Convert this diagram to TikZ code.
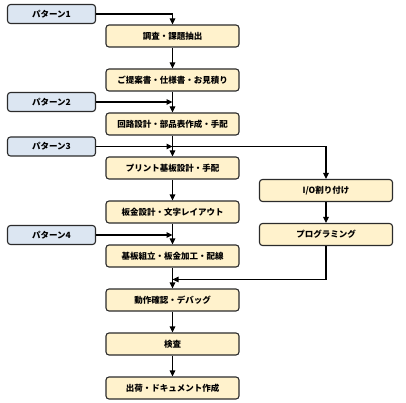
\documentclass[tikz,border=0pt]{standalone}
\usepackage{fontspec}
\setmainfont{Noto Sans CJK JP}
\usetikzlibrary{arrows.meta,positioning}
\definecolor{stepfill}{HTML}{FFF2CC}
\definecolor{patfill}{HTML}{DCE6F2}
\definecolor{edgegray}{HTML}{2B2B2B}

\begin{document}
\begin{tikzpicture}[
  x=1pt, y=-1pt,
  node distance=20.9pt,
  proc/.style={draw=edgegray, line width=1.1pt, rounded corners=3pt, fill=stepfill,
               minimum width=133pt, minimum height=22pt, inner sep=0pt,
               font=\fontsize{8.5}{10}\selectfont\bfseries},
  pat/.style={proc, fill=patfill, minimum width=88pt, minimum height=19pt},
  arr/.style={-{Triangle[length=6pt,width=5.5pt]}, line width=1.1pt, draw=black}
]
\useasboundingbox (0,0) rectangle (406,403);
% main flow
\node[proc] (survey) at (172.5,36) {調査・課題抽出};
\node[proc, below=of survey] (quote) {ご提案書・仕様書・お見積り};
\node[proc, below=of quote] (circuit) {回路設計・部品表作成・手配};
\node[proc, below=of circuit] (pcb) {プリント基板設計・手配};
\node[proc, below=of pcb] (sheet) {板金設計・文字レイアウト};
\node[proc, below=of sheet] (assy) {基板組立・板金加工・配線};
\node[proc, below=of assy] (debug) {動作確認・デバッグ};
\node[proc, below=of debug] (inspect) {検査};
\node[proc, below=of inspect] (ship) {出荷・ドキュメント作成};
% software branch
\node[proc] (io) at (326,190.5) {I/O割り付け};
\node[proc, below=of io] (prog) {プログラミング};
% entry patterns
\node[pat] (pat1) at (51.5,14) {パターン1};
\node[pat] (pat2) at (51.5,102) {パターン2};
\node[pat] (pat3) at (51.5,146.5) {パターン3};
\node[pat] (pat4) at (51.5,235) {パターン4};
\coordinate (split) at (pat3.east -| pcb.north);
\coordinate (merge) at ([yshift=9pt]debug.north);

\draw[arr] (pat1.east) -| (survey.north);
\draw[arr] (survey) -- (quote);
\draw[arr] (quote) -- (circuit);
\draw[arr] (pat2.east) -- (pat2.east -| circuit.north);
\draw[arr] (circuit) -- (pcb);
\draw[arr] (pat3.east) -- (split);
\draw[arr] (split) -| (io.north);
\draw[arr] (pcb) -- (sheet);
\draw[arr] (io) -- (prog);
\draw[arr] (pat4.east) -- (pat4.east -| assy.north);
\draw[arr] (sheet) -- (assy);
\draw[arr] (assy) -- (debug);
\draw[arr] (prog.south) |- (merge);
\draw[arr] (debug) -- (inspect);
\draw[arr] (inspect) -- (ship);
\end{tikzpicture}
\end{document}
